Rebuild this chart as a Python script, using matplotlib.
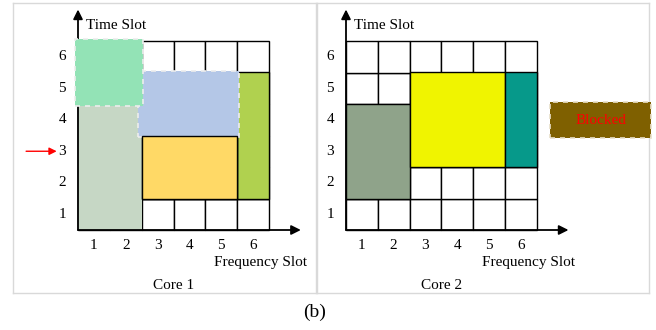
import matplotlib
matplotlib.use("Agg")
import matplotlib.pyplot as plt
from matplotlib.patches import Rectangle

plt.rcParams['font.family'] = ['Liberation Serif', 'DejaVu Serif']

# slot numbers on both axes
slots = [1, 2, 3, 4, 5, 6]

# core 1 blocks, drawn in this order (x0, x1, y0, y1 in slot units)
core1_x0 = [0.5, 5.5, 2.4, 2.5, 0.4]
core1_x1 = [2.5, 6.5, 5.55, 5.5, 2.55]
core1_y0 = [0.5, 1.5, 3.45, 1.5, 4.45]
core1_y1 = [4.5, 5.5, 5.55, 3.5, 6.55]
core1_colors = ['#C6D7C5', '#B0D14F', '#B4C7E7', '#FFD966', '#93E3B6']
core1_dashed = [False, False, True, False, True]

# core 2 blocks
core2_x0 = [0.5, 2.5, 5.5]
core2_x1 = [2.5, 5.5, 6.5]
core2_y0 = [1.5, 2.5, 2.5]
core2_y1 = [4.5, 5.5, 5.5]
core2_colors = ['#8FA38A', '#F0F400', '#06998A']

# "Blocked" box, in core 2 coordinates
blocked_x = [6.92, 10.1]
blocked_y = [3.43, 4.55]

W, H = 656, 330
fig = plt.figure(figsize=(W / 100, H / 100), dpi=100)


def make_panel(px0, px1, py0, py1, gx0, gx1, gy0, gy1):
    # panel box and grid edges given in pixels from the top-left corner
    ax = fig.add_axes([px0 / W, 1 - py1 / H, (px1 - px0) / W, (py1 - py0) / H])
    sx = (gx1 - gx0) / 6.0
    sy = (gy0 - gy1) / 6.0
    ax.set_xlim(0.5 + (px0 - gx0) / sx, 0.5 + (px1 - gx0) / sx)
    ax.set_ylim(0.5 - (py1 - gy0) / sy, 0.5 + (gy0 - py0) / sy)
    ax.set_xticks([])
    ax.set_yticks([])
    for s in ax.spines.values():
        s.set_color('#D9D9D9')
        s.set_linewidth(1.0)
    return ax


def draw_grid(ax):
    for c in slots:
        for r in slots:
            ax.add_patch(Rectangle((c - 0.5, r - 0.5), 1, 1, facecolor='white',
                                   edgecolor='black', lw=1.0, zorder=1))


def draw_axes_labels(ax, title):
    ax.annotate('', xy=(7.5, 0.5), xytext=(0.5, 0.5),
                arrowprops=dict(arrowstyle='-|>', color='black', lw=1.3,
                                mutation_scale=14, shrinkA=0, shrinkB=0), zorder=5)
    ax.annotate('', xy=(0.5, 7.5), xytext=(0.5, 0.5),
                arrowprops=dict(arrowstyle='-|>', color='black', lw=1.3,
                                mutation_scale=14, shrinkA=0, shrinkB=0), zorder=5)
    for s in slots:
        ax.text(s, 0.0, str(s), ha='center', va='center', fontsize=11)
        ax.text(0.0, s, str(s), ha='center', va='center', fontsize=11)
    ax.text(0.75, 7.0, 'Time Slot', ha='left', va='center', fontsize=11)
    ax.text(7.7, -0.52, 'Frequency Slot', ha='right', va='center', fontsize=11)
    ax.text(3.5, -1.25, title, ha='center', va='center', fontsize=11)


# ---- core 1
ax1 = make_panel(13, 316, 3, 293, 78, 269, 230, 41)
draw_grid(ax1)
for x0, x1, y0, y1, col, dash in zip(core1_x0, core1_x1, core1_y0, core1_y1,
                                     core1_colors, core1_dashed):
    if dash:
        # dashed boxes sit on top of the axis line
        ax1.add_patch(Rectangle((x0, y0), x1 - x0, y1 - y0, facecolor=col,
                                edgecolor='#EDEDED', lw=1.2, ls=(0, (3, 3)), zorder=6))
    elif col == core1_colors[0]:
        ax1.add_patch(Rectangle((x0, y0), x1 - x0, y1 - y0, facecolor=col,
                                edgecolor='none', zorder=2))
    else:
        ax1.add_patch(Rectangle((x0, y0), x1 - x0, y1 - y0, facecolor=col,
                                edgecolor='black', lw=1.0, zorder=2))
draw_axes_labels(ax1, 'Core 1')
# orange block drawn again so it stays above the blue one
ax1.add_patch(Rectangle((core1_x0[3], core1_y0[3]), core1_x1[3] - core1_x0[3],
                        core1_y1[3] - core1_y0[3], facecolor=core1_colors[3],
                        edgecolor='black', lw=1.0, zorder=7))
# red arrow pointing at time slot 3
ax1.annotate('', xy=(-0.17, 3), xytext=(-1.13, 3),
             arrowprops=dict(arrowstyle='-|>', color='red', lw=1.0,
                             mutation_scale=11, shrinkA=0, shrinkB=0))

# ---- core 2
ax2 = make_panel(317, 649, 3, 293, 346, 536.7, 230, 41)
draw_grid(ax2)
for x0, x1, y0, y1, col in zip(core2_x0, core2_x1, core2_y0, core2_y1, core2_colors):
    ax2.add_patch(Rectangle((x0, y0), x1 - x0, y1 - y0, facecolor=col,
                            edgecolor='black', lw=1.0, zorder=2))
draw_axes_labels(ax2, 'Core 2')
ax2.add_patch(Rectangle((blocked_x[0], blocked_y[0]), blocked_x[1] - blocked_x[0],
                        blocked_y[1] - blocked_y[0], facecolor='#7F6000',
                        edgecolor='#E8DFC8', lw=1.2, ls=(0, (3, 3)),
                        zorder=3, clip_on=False))
ax2.text(sum(blocked_x) / 2, sum(blocked_y) / 2, 'Blocked', color='red',
         ha='center', va='center', fontsize=11, zorder=4)

fig.text(315 / W, 1 - 312 / H, '(b)', ha='center', va='center', fontsize=14)

fig.savefig('out.png', dpi=100)
